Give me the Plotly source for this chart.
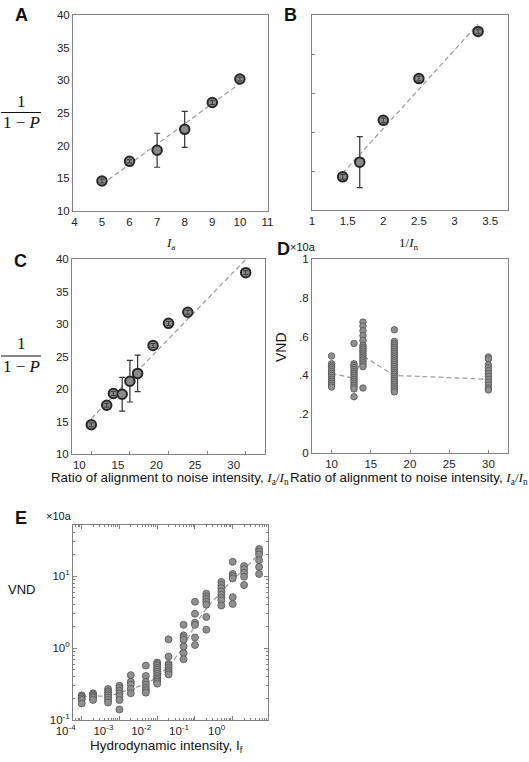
import numpy as np
import plotly.graph_objects as go

W, H = 529, 762

# ---- panel A: 1/(1-P) vs alignment intensity I_a
a_x = [5, 6, 7, 8, 9, 10]
a_y = [14.6, 17.6, 19.3, 22.5, 26.6, 30.2]
a_err = [0.3, 0.25, 2.6, 2.75, 0.3, 0.3]

# ---- panel B: 1/(1-P) vs 1/I_n
b_x = [1.43, 1.67, 2.0, 2.5, 3.33]
b_y = [19.25, 21.13, 26.5, 31.85, 37.9]
b_err = [0.3, 3.27, 0.3, 0.3, 0.3]

# ---- panel C: 1/(1-P) vs I_a/I_n
c_x = [10, 12, 12.86, 14, 15, 16, 18, 20, 22.5, 30]
c_y = [14.5, 17.5, 19.3, 19.2, 21.2, 22.4, 26.7, 30.1, 31.8, 37.9]
c_err = [0.3, 0.3, 0.3, 2.6, 3.2, 2.8, 0.3, 0.3, 0.3, 0.3]

# ---- panel D: VND vs I_a/I_n
d_groups = [10, 12.86, 14, 18, 30]
d_10 = [0.50, 0.46, 0.45, 0.44, 0.43, 0.42, 0.41, 0.40, 0.39, 0.38, 0.37, 0.36, 0.35, 0.34]
d_12 = [0.565, 0.46, 0.45, 0.44, 0.43, 0.42, 0.41, 0.40, 0.39, 0.38, 0.37, 0.36, 0.35, 0.34, 0.33, 0.29]
d_14 = [0.675, 0.655, 0.63, 0.605, 0.58, 0.555, 0.545, 0.535, 0.525, 0.515, 0.505,
        0.495, 0.485, 0.475, 0.465, 0.455, 0.445, 0.335]
d_18 = [0.635, 0.575, 0.565, 0.555, 0.545, 0.535, 0.525, 0.515, 0.505, 0.495, 0.485,
        0.475, 0.465, 0.455, 0.445, 0.435, 0.425, 0.415, 0.405, 0.395, 0.385, 0.375,
        0.365, 0.355, 0.345, 0.335, 0.325, 0.315]
d_30 = [0.495, 0.485, 0.455, 0.44, 0.425, 0.41, 0.395, 0.38, 0.365, 0.35, 0.335, 0.325]
d_mean = [0.41, 0.385, 0.50, 0.40, 0.38]

# ---- panel E: VND vs hydrodynamic intensity I_f (log-log)
e_x = [1e-4, 2e-4, 5e-4, 1e-3, 2e-3, 5e-3, 1e-2, 2e-2, 5e-2, 0.1, 0.2, 0.5, 1, 2, 5]
e_vnd = [
    [0.22, 0.21, 0.20, 0.19, 0.17],
    [0.235, 0.225, 0.215, 0.205, 0.19],
    [0.27, 0.25, 0.235, 0.22, 0.205, 0.19, 0.175],
    [0.30, 0.28, 0.255, 0.235, 0.215, 0.19, 0.14],
    [0.42, 0.34, 0.31, 0.27, 0.235],
    [0.57, 0.41, 0.34, 0.31, 0.28, 0.26, 0.24],
    [0.63, 0.60, 0.57, 0.53, 0.50, 0.47, 0.44, 0.41, 0.38, 0.36, 0.34, 0.32],
    [1.32, 0.76, 0.60, 0.57, 0.53, 0.49, 0.46, 0.43],
    [2.1, 1.5, 1.4, 1.3, 1.05, 0.85, 0.7],
    [4.4, 3.0, 2.25, 2.1, 1.4, 1.1],
    [5.7, 5.2, 4.8, 4.4, 4.0, 2.7, 1.8],
    [8.3, 7.5, 6.8, 6.1, 5.5, 5.0, 4.6, 3.9],
    [15.8, 10.7, 10.0, 9.3, 5.1, 4.1],
    [13.8, 12.4, 11.1, 9.8, 7.5],
    [23.7, 21.8, 20.0, 16.6, 13.4, 10.7],
]
e_line = [0.21, 0.215, 0.215, 0.235, 0.275, 0.31, 0.40, 0.55, 1.04, 2.09, 3.55, 6.1, 9.0, 12.3, 20.5]


def dom_x(left, right):
    return [left / W, right / W]


def dom_y(top, bottom):
    return [1 - bottom / H, 1 - top / H]


SANS = "Liberation Sans, Arial, sans-serif"
SERIF = "Liberation Serif, Times New Roman, serif"
FRAME = "#808080"
DASH = dict(color="#9a9a9a", width=1.2, dash="5px,3px")
BIG = dict(size=9.5, color="#8a8a8a", line=dict(color="#262626", width=2))
SMALL = dict(size=6.5, color="#8f8f8f", line=dict(color="#555555", width=0.8))

axis_base = dict(showline=True, linecolor=FRAME, linewidth=1, mirror=True,
                 showgrid=False, zeroline=False, ticks="", automargin=False,
                 tickfont=dict(family=SANS, size=11.5, color="#222"))

fig = go.Figure()


def fit_line(x, y, xa, ya):
    k, b = np.polyfit(x, y, 1)
    xs = np.array([min(x), max(x)])
    fig.add_trace(go.Scatter(x=xs, y=k * xs + b, mode="lines", line=DASH,
                             xaxis=xa, yaxis=ya, hoverinfo="skip"))


def big_points(x, y, err, xa, ya):
    big = [e if e > 1 else 0 for e in err]
    fig.add_trace(go.Scatter(x=x, y=y, mode="markers", marker=BIG, xaxis=xa, yaxis=ya,
                             error_y=dict(type="data", array=big, color="#333",
                                          thickness=1.2, width=3)))
    # tiny error bars show through the markers
    sx = [xi for xi, e in zip(x, err) if e <= 1]
    sy = [yi for yi, e in zip(y, err) if e <= 1]
    se = [e for e in err if e <= 1]
    fig.add_trace(go.Scatter(x=sx, y=sy, mode="markers", marker=dict(size=1, opacity=0),
                             xaxis=xa, yaxis=ya,
                             error_y=dict(type="data", array=se, color="#3a3a3a",
                                          thickness=1, width=2.5)))


# A
fit_line(a_x, a_y, "x", "y")
big_points(a_x, a_y, a_err, "x", "y")
# B
fit_line(b_x, b_y, "x2", "y2")
big_points(b_x, b_y, b_err, "x2", "y2")
# C
fit_line(c_x, c_y, "x3", "y3")
big_points(c_x, c_y, c_err, "x3", "y3")

# D
fig.add_trace(go.Scatter(x=d_groups, y=d_mean, mode="lines", line=DASH,
                         xaxis="x4", yaxis="y4", hoverinfo="skip"))
for gx, vals in zip(d_groups, [d_10, d_12, d_14, d_18, d_30]):
    fig.add_trace(go.Scatter(x=[gx] * len(vals), y=vals, mode="markers", marker=SMALL,
                             xaxis="x4", yaxis="y4"))

# E
fig.add_trace(go.Scatter(x=e_x, y=e_line, mode="lines", line=DASH,
                         xaxis="x5", yaxis="y5", hoverinfo="skip"))
for gx, vals in zip(e_x, e_vnd):
    fig.add_trace(go.Scatter(x=[gx] * len(vals), y=vals, mode="markers",
                             marker=dict(SMALL, size=7), xaxis="x5", yaxis="y5"))

ticks_in = dict(ticks="inside", ticklen=3, tickcolor=FRAME)

fig.update_layout(
    template="none",
    width=W, height=H,
    margin=dict(l=0, r=0, t=0, b=0, autoexpand=False),
    paper_bgcolor="white", plot_bgcolor="white",
    showlegend=False,
    xaxis=dict(axis_base, domain=dom_x(73, 268), range=[3.95, 11.02], tick0=4, dtick=1, anchor="y"),
    yaxis=dict(axis_base, domain=dom_y(15, 211), range=[10, 40], dtick=5, anchor="x"),
    xaxis2=dict(axis_base, domain=dom_x(312, 508), range=[1, 3.75],
                tickvals=[1, 1.5, 2, 2.5, 3, 3.5], ticktext=["1", "1.5", "2", "2.5", "3", "3.5"],
                anchor="y2"),
    yaxis2=dict(axis_base, domain=dom_y(15, 210), range=[15, 40], tickvals=[20, 25, 30, 35],
                showticklabels=False, anchor="x2", **ticks_in),
    xaxis3=dict(axis_base, domain=dom_x(72, 265), range=[7.5, 32.5], tickvals=[10, 15, 20, 25, 30],
                ticklabelshift=-12, anchor="y3", **ticks_in),
    yaxis3=dict(axis_base, domain=dom_y(259, 454), range=[10, 40], dtick=5, anchor="x3"),
    xaxis4=dict(axis_base, domain=dom_x(312, 508), range=[7.5, 32.5], tickvals=[10, 15, 20, 25, 30],
                anchor="y4", **ticks_in),
    yaxis4=dict(axis_base, domain=dom_y(259, 453), range=[0, 1],
                tickvals=[0, 0.2, 0.4, 0.6, 0.8, 1], ticktext=["0", ".2", ".4", ".6", ".8", "1"],
                anchor="x4"),
    xaxis5=dict(axis_base, domain=dom_x(73, 268), type="log", range=[-4.23, 0.935],
                tickvals=[1e-4, 1e-3, 1e-2, 1e-1, 1],
                ticktext=["10<sup>-4</sup>", "10<sup>-3</sup>", "10<sup>-2</sup>",
                          "10<sup>-1</sup>", "10<sup>0</sup>"],
                ticklabelshift=-16, anchor="y5", mirror="allticks",
                ticks="inside", ticklen=4, tickcolor=FRAME,
                minor=dict(ticks="inside", ticklen=2, tickcolor=FRAME, dtick="D1")),
    yaxis5=dict(axis_base, domain=dom_y(525, 720), type="log", range=[-1, 1.71],
                tickvals=[0.1, 1, 10],
                ticktext=["10<sup>-1</sup>", "10<sup>0</sup>", "10<sup>1</sup>"],
                anchor="x5", mirror="allticks",
                ticks="inside", ticklen=4, tickcolor=FRAME,
                minor=dict(ticks="inside", ticklen=2, tickcolor=FRAME, dtick="D1")),
)


def note(text, px, py, size=11, family=SANS, **kw):
    fig.add_annotation(text=text, x=px / W, y=1 - py / H, xref="paper", yref="paper",
                       xanchor="center", yanchor="middle", showarrow=False,
                       font=dict(family=family, size=size, color="#111"), **kw)


# panel letters
for letter, px, py in [("A", 21, 15), ("B", 290, 15), ("C", 20, 261), ("D", 283, 249), ("E", 21, 518)]:
    note("<b>%s</b>" % letter, px, py, size=18)

# fraction y-titles for A and C
for num_y, bar_y, den_y in [(102, 112.5, 123), (344, 356, 367)]:
    note("1", 21, num_y, size=17, family=SERIF)
    note("1 − <i>P</i>", 21, den_y, size=17, family=SERIF)
    fig.add_shape(type="line", xref="paper", yref="paper", x0=1 / W, x1=41 / W,
                  y0=1 - bar_y / H, y1=1 - bar_y / H, line=dict(color="#111", width=1))

# x titles
note("<i>I</i><sub>a</sub>", 170, 243, size=13, family=SERIF)
note("1/<i>I</i><sub>n</sub>", 408, 243, size=13, family=SERIF)
ratio_title = "Ratio of alignment to noise intensity, " \
              "<span style='font-family:Liberation Serif'><i>I</i><sub>a</sub>/<i>I</i><sub>n</sub></span>"
note(ratio_title, 170, 478, size=13.3)
note(ratio_title, 409, 478, size=13.3)
note("Hydrodynamic intensity, I<sub>f</sub>", 166, 746, size=13.5)

# y titles and multipliers
note("VND", 281, 347, size=14, textangle=-90)
note("VND", 21, 589, size=13)
note("×10a", 303, 247, size=11)
note("×10a", 59, 516, size=11)

# page body margin would push the figure 8px down/right
fig.write_html("out.html", config={"displayModeBar": False},
               post_script="document.body.style.margin='0';")
